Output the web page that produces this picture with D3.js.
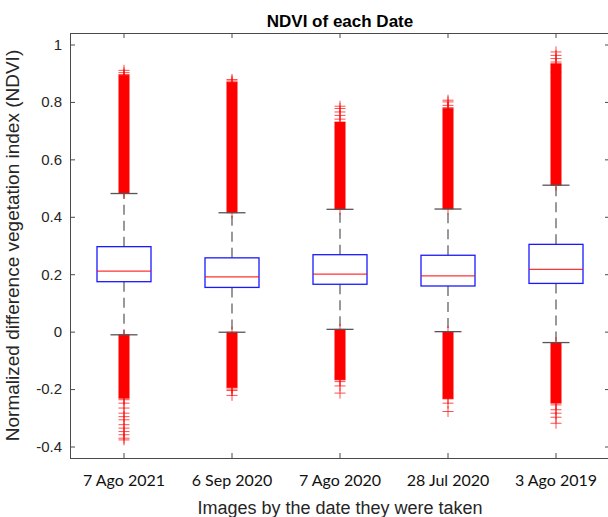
<!DOCTYPE html>
<html>
<head>
<meta charset="utf-8">
<script src="https://cdn.jsdelivr.net/npm/d3@7/dist/d3.min.js"></script>
<style>
  html, body { margin: 0; padding: 0; background: #fff; }
  svg { display: block; }
</style>
</head>
<body>
<svg id="chart" width="608" height="517"></svg>
<script>
// ---- data ----
const categories = ["7 Ago 2021", "6 Sep 2020", "7 Ago 2020", "28 Jul 2020", "3 Ago 2019"];
const q1 = [0.174, 0.154, 0.165, 0.159, 0.168];
const medians = [0.211, 0.191, 0.200, 0.194, 0.217];
const q3 = [0.296, 0.257, 0.268, 0.266, 0.304];
const whiskerLow = [-0.011, -0.002, 0.008, 0.000, -0.038];
const whiskerHigh = [0.481, 0.414, 0.426, 0.427, 0.510];
// upper/lower ends of the dense (fully overlapping) outlier clusters
const denseHighEnd = [0.893, 0.869, 0.730, 0.777, 0.933];
const denseLowEnd = [-0.232, -0.195, -0.168, -0.234, -0.249];
// individually visible outliers beyond the dense clusters
const outliersHigh = [
  [0.910, 0.902, 0.895],
  [0.878, 0.873],
  [0.785, 0.777, 0.765, 0.753, 0.740],
  [0.806, 0.800, 0.788, 0.780],
  [0.974, 0.962, 0.951, 0.939, 0.904]
];
const outliersLow = [
  [-0.237, -0.249, -0.266, -0.284, -0.296, -0.307, -0.324, -0.336, -0.348, -0.359, -0.371, -0.377],
  [-0.200, -0.205, -0.222],
  [-0.174, -0.189, -0.214],
  [-0.249, -0.278],
  [-0.255, -0.272, -0.284, -0.298, -0.319]
];
const yTicks = [-0.4, -0.2, 0, 0.2, 0.4, 0.6, 0.8, 1];
const yTickLabels = ["-0.4", "-0.2", "0", "0.2", "0.4", "0.6", "0.8", "1"];
const titleText = "NDVI of each Date";
const xLabelText = "Images by the date they were taken";
const yLabelText = "Normalized difference vegetation index (NDVI)";

// ---- layout ----
const plot = { left: 70, right: 610, top: 33, bottom: 458 };
const svg = d3.select("#chart");

const x = d3.scaleBand().domain(categories).range([plot.left, plot.right]).padding(0);
const y = d3.scaleLinear().domain([-0.44, 1.04]).range([plot.bottom, plot.top]);
const cx = c => x(c) + x.bandwidth() / 2;
const boxW = x.bandwidth() * 0.5;
const capW = x.bandwidth() * 0.25;
const markHalf = 5.5;

const rows = categories.map((c, i) => ({
  c, i, q1: q1[i], med: medians[i], q3: q3[i],
  wLo: whiskerLow[i], wHi: whiskerHigh[i],
  dHi: denseHighEnd[i], dLo: denseLowEnd[i],
  oHi: outliersHigh[i], oLo: outliersLow[i]
}));

const g = svg.append("g");

// whiskers (dashed)
g.selectAll(".whiskHi").data(rows).join("line")
  .attr("x1", d => cx(d.c)).attr("x2", d => cx(d.c))
  .attr("y1", d => y(d.q3)).attr("y2", d => y(d.wHi))
  .attr("stroke", "#555").attr("stroke-width", 1.2).attr("stroke-dasharray", "10,6");
g.selectAll(".whiskLo").data(rows).join("line")
  .attr("x1", d => cx(d.c)).attr("x2", d => cx(d.c))
  .attr("y1", d => y(d.q1)).attr("y2", d => y(d.wLo))
  .attr("stroke", "#555").attr("stroke-width", 1.2).attr("stroke-dasharray", "10,6");

// dense outlier bands
const red = "#ff0000";
g.selectAll(".denseHi").data(rows).join("rect")
  .attr("x", d => cx(d.c) - markHalf).attr("width", markHalf * 2)
  .attr("y", d => y(d.dHi)).attr("height", d => y(d.wHi) - y(d.dHi))
  .attr("fill", red);
g.selectAll(".denseLo").data(rows).join("rect")
  .attr("x", d => cx(d.c) - markHalf).attr("width", markHalf * 2)
  .attr("y", d => y(d.wLo)).attr("height", d => y(d.dLo) - y(d.wLo))
  .attr("fill", red);

// plus markers: dense band ends + individual outliers
const plusPts = [];
rows.forEach(d => {
  [d.wHi, d.dHi, d.wLo, d.dLo].concat(d.oHi, d.oLo).forEach(v => plusPts.push({ c: d.c, v }));
});
g.selectAll(".plus").data(plusPts).join("path")
  .attr("d", d => {
    const px = cx(d.c), py = y(d.v);
    return `M${px - markHalf},${py}H${px + markHalf}M${px},${py - markHalf}V${py + markHalf}`;
  })
  .attr("stroke", red).attr("stroke-opacity", 0.7).attr("stroke-width", 1).attr("fill", "none");

// caps
g.selectAll(".capHi").data(rows).join("line")
  .attr("x1", d => cx(d.c) - capW / 2).attr("x2", d => cx(d.c) + capW / 2)
  .attr("y1", d => y(d.wHi)).attr("y2", d => y(d.wHi))
  .attr("stroke", "#555").attr("stroke-width", 1.3);
g.selectAll(".capLo").data(rows).join("line")
  .attr("x1", d => cx(d.c) - capW / 2).attr("x2", d => cx(d.c) + capW / 2)
  .attr("y1", d => y(d.wLo)).attr("y2", d => y(d.wLo))
  .attr("stroke", "#555").attr("stroke-width", 1.3);

// boxes
g.selectAll(".box").data(rows).join("rect")
  .attr("x", d => cx(d.c) - boxW / 2).attr("width", boxW)
  .attr("y", d => y(d.q3)).attr("height", d => y(d.q1) - y(d.q3))
  .attr("fill", "none").attr("stroke", "#1a1aff").attr("stroke-width", 1.3);
// medians
g.selectAll(".med").data(rows).join("line")
  .attr("x1", d => cx(d.c) - boxW / 2).attr("x2", d => cx(d.c) + boxW / 2)
  .attr("y1", d => y(d.med)).attr("y2", d => y(d.med))
  .attr("stroke", red).attr("stroke-opacity", 0.8).attr("stroke-width", 1.2);

// ---- axes ----
const axisColor = "#4a4a4a";
const fmt = v => yTickLabels[yTicks.indexOf(v)];
const yAxis = svg.append("g").attr("transform", `translate(${plot.left},0)`)
  .call(d3.axisLeft(y).tickValues(yTicks).tickFormat(fmt).tickSizeInner(-5).tickSizeOuter(0).tickPadding(8));
const yAxisR = svg.append("g").attr("transform", `translate(${plot.right},0)`)
  .call(d3.axisRight(y).tickValues(yTicks).tickFormat("").tickSizeInner(-5).tickSizeOuter(0));
const xAxis = svg.append("g").attr("transform", `translate(0,${plot.bottom})`)
  .call(d3.axisBottom(x).tickSizeInner(-5).tickSizeOuter(0).tickPadding(17));
const xAxisT = svg.append("g").attr("transform", `translate(0,${plot.top})`)
  .call(d3.axisTop(x).tickFormat("").tickSizeInner(-5).tickSizeOuter(0));

[yAxis, yAxisR, xAxis, xAxisT].forEach(a => {
  a.select(".domain").remove();
  a.selectAll(".tick line").attr("stroke", axisColor);
});
yAxis.selectAll(".tick text")
  .attr("font-family", "'Liberation Sans', Arial, sans-serif").attr("font-size", 15).attr("fill", "#262626");
xAxis.selectAll(".tick text")
  .attr("font-family", "Lato, 'Open Sans', sans-serif").attr("font-size", 16).attr("fill", "#111");

svg.append("rect")
  .attr("x", plot.left + 0.5).attr("y", plot.top + 0.5)
  .attr("width", plot.right - plot.left).attr("height", plot.bottom - plot.top)
  .attr("fill", "none").attr("stroke", axisColor).attr("stroke-width", 1);

// ---- titles ----
svg.append("text")
  .attr("x", (plot.left + plot.right) / 2).attr("y", 27)
  .attr("text-anchor", "middle")
  .attr("font-family", "'Liberation Sans', Arial, sans-serif").attr("font-weight", "bold")
  .attr("font-size", 17).attr("fill", "#000").text(titleText);
svg.append("text")
  .attr("x", (plot.left + plot.right) / 2).attr("y", 514)
  .attr("text-anchor", "middle")
  .attr("font-family", "'Liberation Sans', Arial, sans-serif")
  .attr("font-size", 18).attr("fill", "#262626").text(xLabelText);
svg.append("text")
  .attr("transform", `translate(19,${(plot.top + plot.bottom) / 2}) rotate(-90)`)
  .attr("text-anchor", "middle")
  .attr("font-family", "'Liberation Sans', Arial, sans-serif")
  .attr("font-size", 19).attr("fill", "#262626").text(yLabelText);
</script>
</body>
</html>
